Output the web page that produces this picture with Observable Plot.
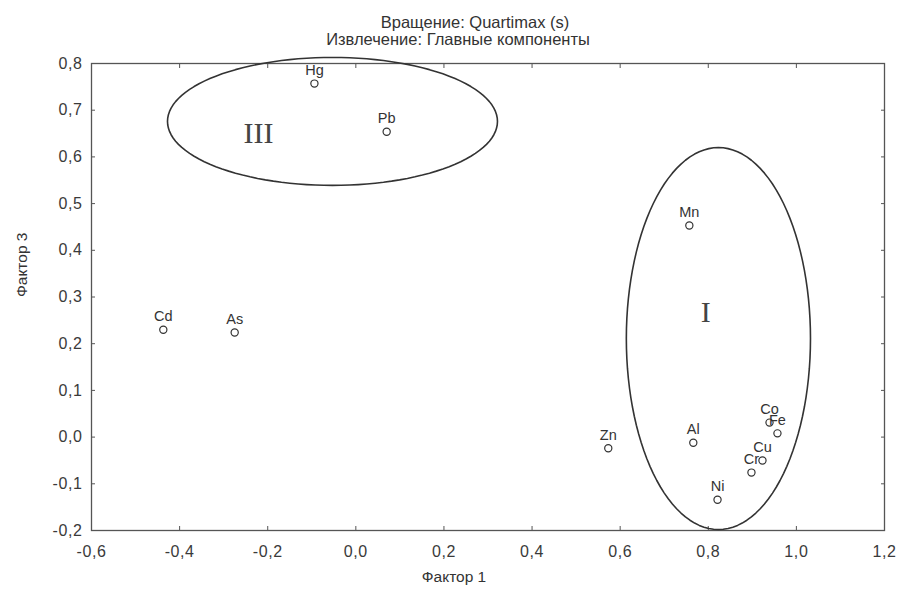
<!DOCTYPE html>
<html>
<head>
<meta charset="utf-8">
<script src="https://cdn.jsdelivr.net/npm/d3@7"></script>
<script src="https://cdn.jsdelivr.net/npm/@observablehq/plot@0.6"></script>
<style>
  html, body { margin: 0; padding: 0; background: #fff; }
  #chart { width: 903px; height: 590px; }
  #chart svg g[aria-label="x-axis tick label"] text,
  #chart svg g[aria-label="y-axis tick label"] text { font-size: 16px; letter-spacing: 0.6px; }
</style>
</head>
<body>
<div id="chart"></div>
<script>
const titleLine1 = "Вращение: Quartimax (s)";
const titleLine2 = "Извлечение: Главные компоненты";
const xLabel = "Фактор 1";
const yLabel = "Фактор 3";

const elements = ["Hg", "Pb", "Cd", "As", "Mn", "Zn", "Al", "Co", "Fe", "Cu", "Cr", "Ni"];
const factor1 = [-0.094, 0.070, -0.437, -0.275, 0.757, 0.573, 0.766, 0.939, 0.957, 0.923, 0.898, 0.821];
const factor3 = [0.757, 0.654, 0.230, 0.224, 0.453, -0.024, -0.012, 0.031, 0.008, -0.050, -0.076, -0.134];

const groupNames = ["III", "I"];
const groupCx = [-0.053, 0.823];
const groupCy = [0.676, 0.211];
const groupRx = [0.3745, 0.209];
const groupRy = [0.137, 0.409];
const groupLabelX = [-0.221, 0.794];
const groupLabelY = [0.650, 0.267];

const xTicks = [-0.6, -0.4, -0.2, 0.0, 0.2, 0.4, 0.6, 0.8, 1.0, 1.2];
const yTicks = [-0.2, -0.1, 0.0, 0.1, 0.2, 0.3, 0.4, 0.5, 0.6, 0.7, 0.8];

const points = elements.map((name, i) => ({name, x: factor1[i], y: factor3[i]}));

// ellipse outlines built from each group's centre and radii
const outline = [];
groupNames.forEach((g, j) => {
  const n = 120;
  for (let k = 0; k <= n; k++) {
    const t = (k / n) * 2 * Math.PI;
    outline.push({group: g, x: groupCx[j] + groupRx[j] * Math.cos(t), y: groupCy[j] + groupRy[j] * Math.sin(t)});
  }
});
const groupLabels = groupNames.map((g, j) => ({g, x: groupLabelX[j], y: groupLabelY[j]}));

const fmt = d => d.toFixed(1).replace(".", ",");
const ink = "#3a3a3a";

const chart = Plot.plot({
  width: 903,
  height: 590,
  marginLeft: 91,
  marginRight: 19,
  marginTop: 63,
  marginBottom: 60,
  style: {background: "#fff", fontFamily: "Liberation Sans, Arial, sans-serif", fontSize: "15px", color: ink},
  x: {domain: [-0.6, 1.2]},
  y: {domain: [-0.2, 0.8]},
  marks: [
    Plot.frame({stroke: "#555", strokeWidth: 1.3}),
    Plot.axisX(xTicks, {anchor: "bottom", tickSize: -4, tickPadding: 19, tickFormat: fmt, stroke: "#555", fill: ink, label: null}),
    Plot.axisX(xTicks, {anchor: "top", tickSize: -4, tickFormat: () => "", stroke: "#555", label: null}),
    Plot.axisY(yTicks, {anchor: "left", tickSize: -4, tickPadding: 13, tickFormat: fmt, stroke: "#555", fill: ink, label: null}),
    Plot.axisY(yTicks, {anchor: "right", tickSize: -4, tickFormat: () => "", stroke: "#555", label: null}),
    Plot.line(outline, {x: "x", y: "y", z: "group", stroke: "#333", strokeWidth: 1.6}),
    Plot.text(groupLabels, {x: "x", y: "y", text: "g", fontSize: 30, fontFamily: "Liberation Serif, Times New Roman, serif", fill: "#444"}),
    Plot.dot(points, {x: "x", y: "y", r: 3.6, stroke: "#333", strokeWidth: 1.2, fill: "#fff"}),
    Plot.text(points, {x: "x", y: "y", text: "name", dy: -13, fontSize: 14.5, fill: "#333", letterSpacing: "0.8px"}),
    Plot.text([titleLine1], {frameAnchor: "top", dy: -47, dx: -13, fontSize: 16.5, fill: "#333"}),
    Plot.text([titleLine2], {frameAnchor: "top", dy: -30, dx: -30, fontSize: 16.5, letterSpacing: "1px", fill: "#333"}),
    Plot.text([xLabel], {frameAnchor: "bottom", dy: 51, dx: -34, fontSize: 15.5, letterSpacing: "0.5px", fill: "#333"}),
    Plot.text([yLabel], {frameAnchor: "left", dx: -69, rotate: -90, fontSize: 15.5, letterSpacing: "0.5px", fill: "#333"})
  ]
});
document.getElementById("chart").appendChild(chart);
</script>
</body>
</html>
